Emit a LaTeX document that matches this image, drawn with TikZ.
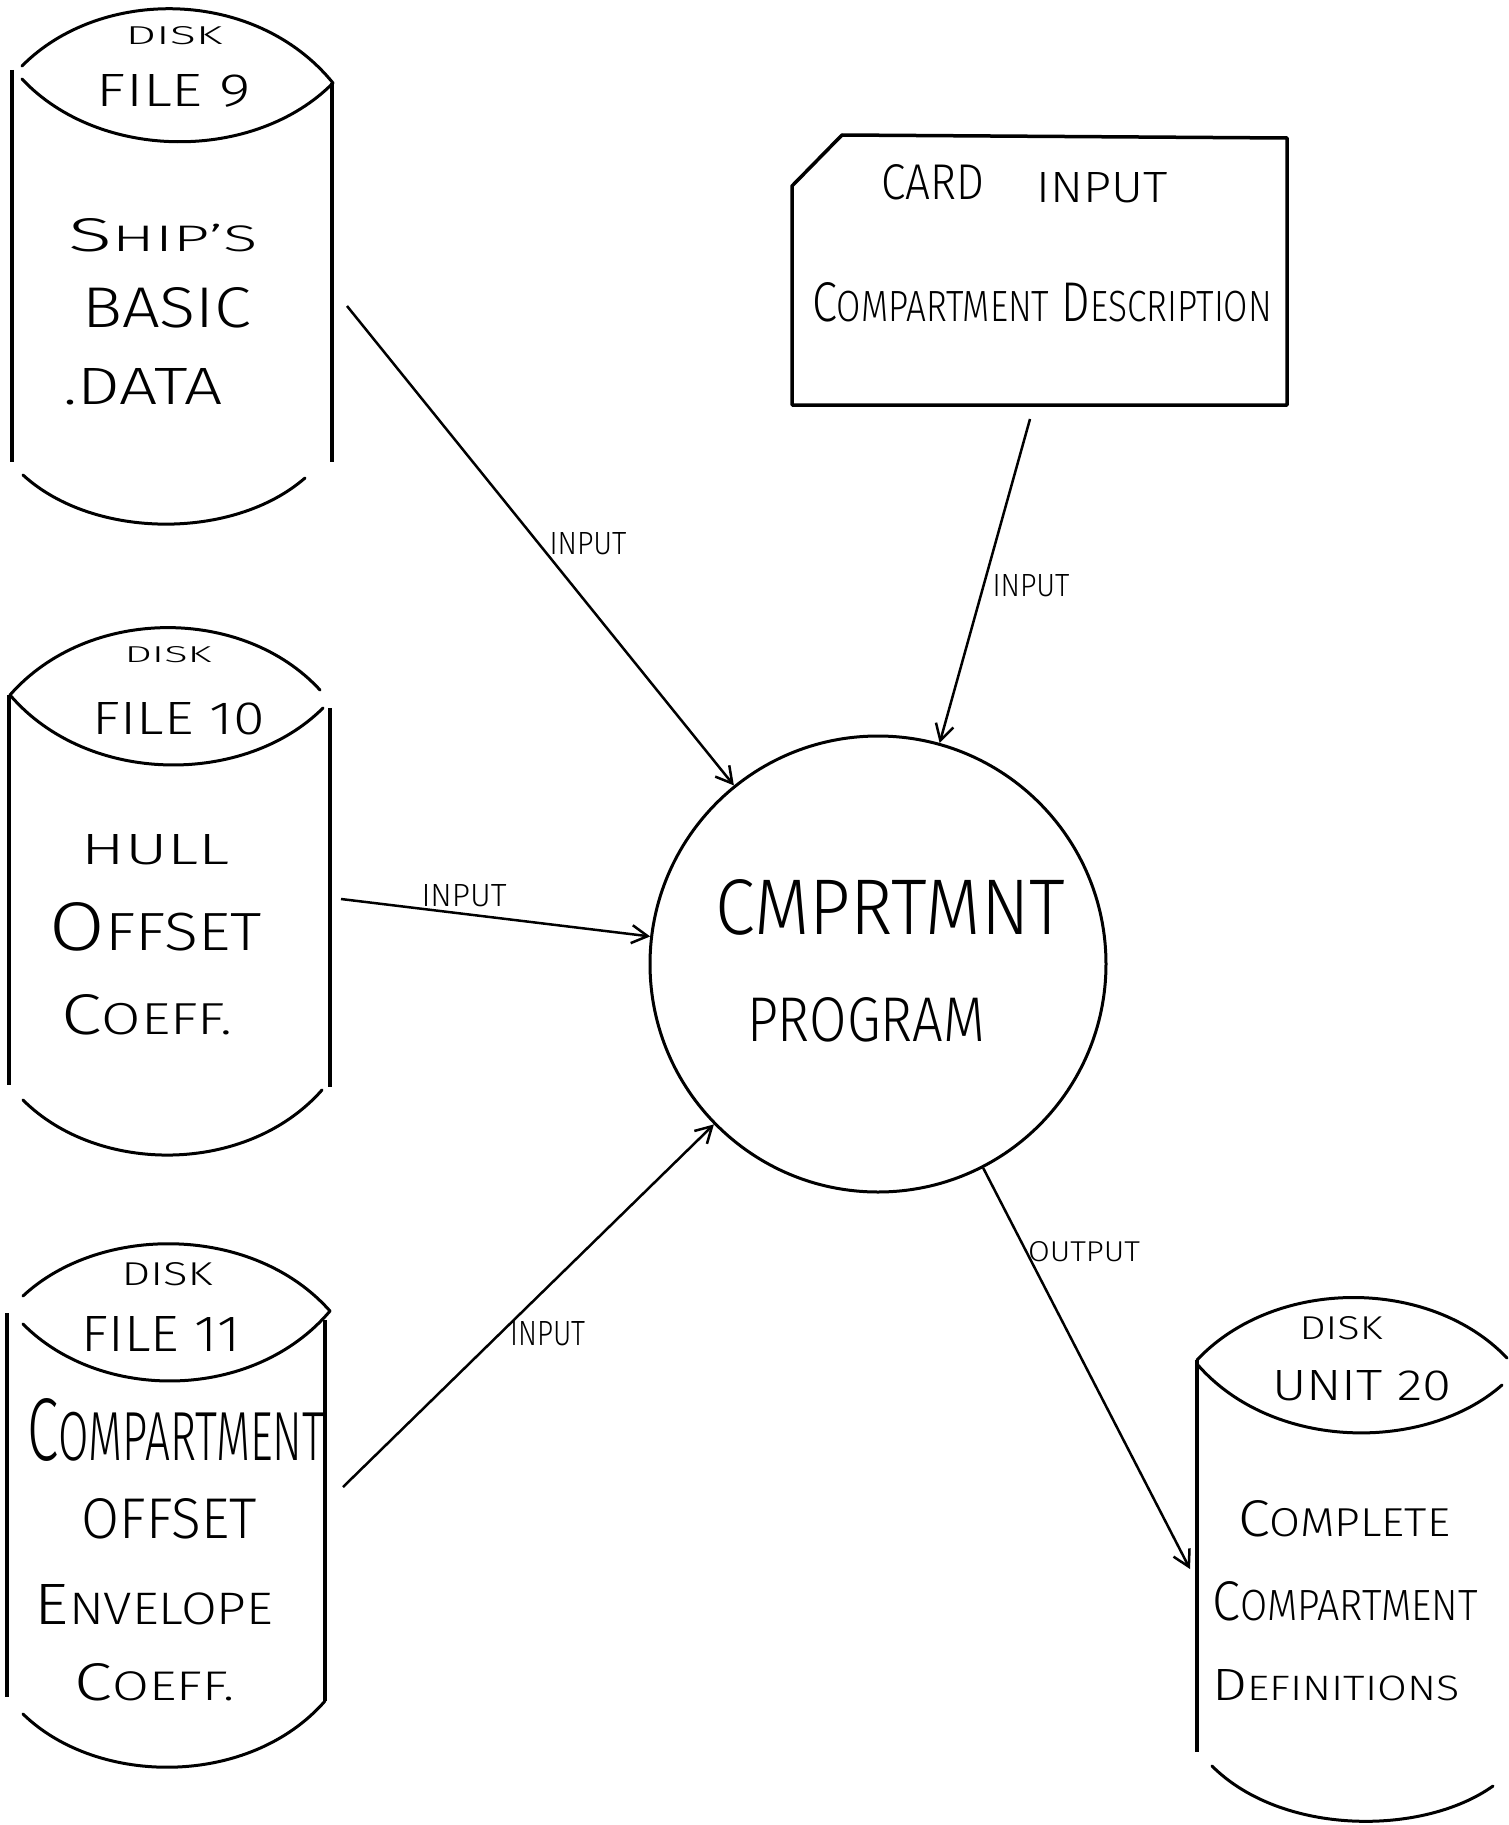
\documentclass[tikz,border=0pt]{standalone}
\usepackage{fontspec}
\IfFontExistsTF{Fira Sans Light}{\setmainfont{Fira Sans Light}}{\setmainfont{Fira Sans}}
\usetikzlibrary{arrows.meta}
\makeatletter
% rest of a word set smaller, for the hand-lettered small-caps look
\newcommand\smc[1]{{\fontsize{\fpeval{0.78*\f@size}}{\fpeval{0.9*\f@size}}\selectfont #1}}
\makeatother
% fit a lettering to a given width and cap height
\newcommand\fit[3]{\resizebox{#1pt}{#2pt}{#3}}

\tikzset{
  outline/.style={line width=3pt, line cap=round},
  side/.style={line width=4pt},
  txt/.style={inner sep=0pt, outer sep=0pt, font=\fontsize{40}{48}\selectfont},
  flow/.style={line width=2.5pt, -{Straight Barb[length=16pt,width=18pt,line width=2.5pt]}},
  prog/.style={circle, draw, line width=3pt, minimum size=456pt, inner sep=0pt},
}

\begin{document}
\begin{tikzpicture}[x=1pt,y=-1pt]
\useasboundingbox (0,0) rectangle (1508,1825);
\fill[white] (0,0) rectangle (1508,1825);

% ---- disk file 9
\draw[outline] (22,66) .. controls (100,-13) and (255,-13) .. (333,83);
\draw[outline] (22,79) .. controls (100,162) and (255,162) .. (333,83);
\draw[side] (12,70) -- (12,462);
\draw[side] (332,83) -- (332,462);
\draw[outline] (23,475) .. controls (94,540) and (234,540) .. (305,478);
\node[txt] (d9a) at (174,36)  {\fit{97}{18}{DISK}};
\node[txt] (d9b) at (174,91)  {\fit{154}{32}{FILE 9}};
\node[txt] (d9c) at (163,235) {\fit{189}{33}{S\smc{HIP'S}}};
\node[txt] (d9d) at (167,308) {\fit{169}{40}{BASIC}};
\node[txt] (d9e) at (143,387) {\fit{159}{36}{.DATA}};

% ---- disk file 10
\draw[outline] (10,695) .. controls (88,606) and (243,606) .. (320,690);
\draw[outline] (10,695) .. controls (88,786) and (245,786) .. (323,708);
\draw[side] (9,695) -- (9,1085);
\draw[side] (330,708) -- (330,1087);
\draw[outline] (23,1100) .. controls (98,1175) and (247,1175) .. (322,1090);
\node[txt] (d10a) at (168,655)  {\fit{87}{16}{DISK}};
\node[txt] (d10b) at (179,719)  {\fit{172}{32}{FILE 10}};
\node[txt] (d10c) at (156,850)  {\fit{148}{30}{HULL}};
\node[txt] (d10d) at (156,927)  {\fit{212}{48}{O\smc{FFSET}}};
\node[txt] (d10e) at (147,1015) {\fit{171}{40}{C\smc{OEFF.}}};

% ---- disk file 11
\draw[outline] (23,1296) .. controls (100,1224) and (253,1224) .. (330,1311);
\draw[outline] (23,1324) .. controls (100,1402) and (253,1402) .. (330,1311);
\draw[side] (7,1313) -- (7,1697);
\draw[side] (325,1320) -- (325,1701);
\draw[outline] (23,1714) .. controls (98,1787) and (250,1787) .. (325,1701);
\node[txt] (d11a) at (167,1274) {\fit{91}{23}{DISK}};
\node[txt] (d11b) at (161,1334) {\fit{158}{35}{FILE 11}};
\node[txt] (d11c) at (176,1430) {\fit{297}{62}{C\smc{OMPARTMENT}}};
\node[txt] (d11d) at (169,1519) {\fit{175}{40}{OFFSET}};
\node[txt] (d11e) at (154,1605) {\fit{238}{40}{E\smc{NVELOPE}}};
\node[txt] (d11f) at (155,1682) {\fit{160}{37}{C\smc{OEFF.}}};

% ---- disk unit 20
\draw[outline] (1197,1360) .. controls (1275,1277) and (1430,1277) .. (1507,1358);
\draw[outline] (1197,1364) .. controls (1273,1452) and (1426,1452) .. (1502,1385);
\draw[side] (1197,1360) -- (1197,1752);
\draw[outline] (1212,1766) .. controls (1282,1836) and (1423,1836) .. (1493,1786);
\node[txt] (d20a) at (1341,1328) {\fit{83}{23}{DISK}};
\node[txt] (d20b) at (1362,1386) {\fit{180}{30}{UNIT 20}};
\node[txt] (d20c) at (1344,1519) {\fit{212}{36}{C\smc{OMPLETE}}};
\node[txt] (d20d) at (1345,1601) {\fit{265}{39}{C\smc{OMPARTMENT}}};
\node[txt] (d20e) at (1336,1685) {\fit{247}{31}{D\smc{EFINITIONS}}};

% ---- card input
\draw[line width=3.5pt, line join=round] (792,405) -- (792,186) -- (842,135) -- (1287,138) -- (1287,405) -- cycle;
\node[txt] (cda) at (933,182)  {\fit{103}{35}{CARD}};
\node[txt] (cdb) at (1102,188) {\fit{131}{30}{INPUT}};
\node[txt] (cdc) at (1042,302) {\fit{460}{39}{C\smc{OMPARTMENT} D\smc{ESCRIPTION}}};

% ---- program
\node[prog] (prog) at (878,964) {};
\node[txt] (pa) at (890,907)  {\fit{350}{55}{CMPRTMNT}};
\node[txt] (pb) at (866,1020) {\fit{238}{44}{PROGRAM}};

% ---- data flows
\coordinate (f9)   at (347,306);
\coordinate (fcd)  at (1030,419);
\coordinate (f10)  at (341,899);
\coordinate (f11)  at (343,1487);
\coordinate (f20)  at (1190,1569);
\draw[flow] (f9)  -- (prog);
\draw[flow] (fcd) -- (prog);
\draw[flow] (f10) -- (prog);
\draw[flow] (f11) -- (prog);
\draw[flow] (prog) -- (f20);

\node[txt] (l9)  at (588,544)  {\fit{77}{22}{INPUT}};
\node[txt] (lcd) at (1031,586) {\fit{77}{22}{INPUT}};
\node[txt] (l10) at (464,896)  {\fit{85}{22}{INPUT}};
\node[txt] (l11) at (548,1334) {\fit{75}{24}{INPUT}};
\node[txt] (l20) at (1084,1252) {\fit{112}{20}{OUTPUT}};
\end{tikzpicture}
\end{document}
